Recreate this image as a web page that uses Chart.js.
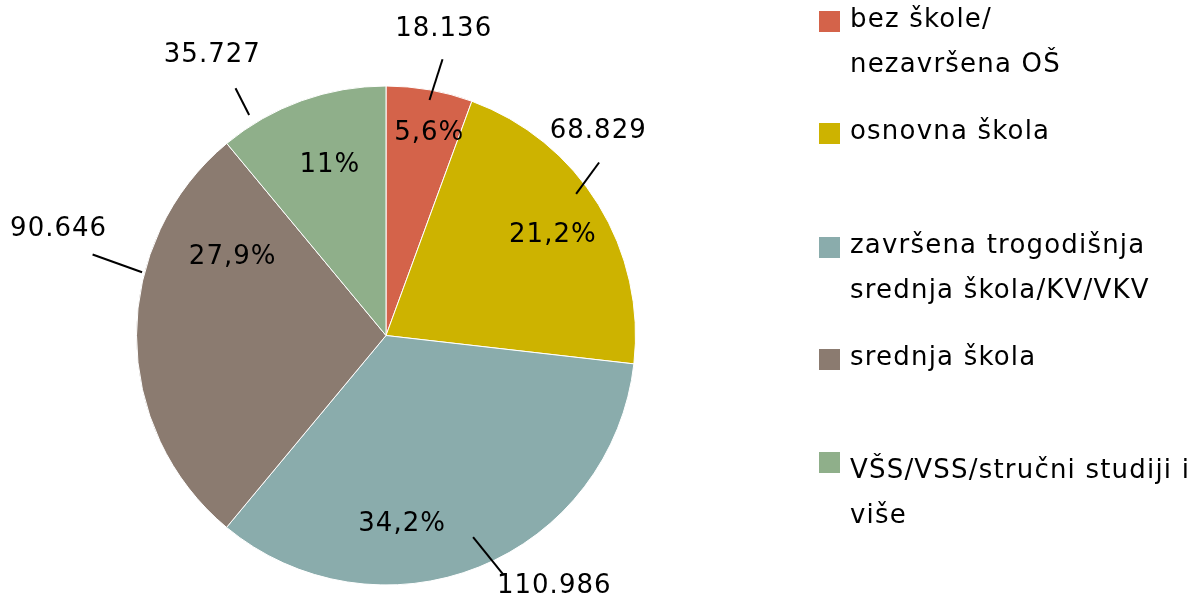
<!DOCTYPE html>
<html>
<head>
<meta charset="utf-8">
<script src="https://cdn.jsdelivr.net/npm/chart.js@4"></script>
<style>
  body { margin: 0; background: #fff; }
  #wrap { width: 1196px; height: 598px; }
</style>
</head>
<body>
<div id="wrap"><canvas id="pie" width="1196" height="598"></canvas></div>
<script>
// --- data ---
const categories = [
    'bez škole/\nnezavršena OŠ',
    'osnovna škola',
    'završena trogodišnja\nsrednja škola/KV/VKV',
    'srednja škola',
    'VŠS/VSS/stručni studiji i\nviše'
];
const counts = [18136, 68829, 110986, 90646, 35727];
const colors = ['#D4634A', '#CDB300', '#8AACAC', '#8B7B70', '#8FAF8A'];

// --- layout (label placement relative to each slice: [angle offset deg, radius fraction]) ---
const pctPos   = [[2, 0.83], [0.7, 0.78], [17, 0.76], [27, 0.69], [1.6, 0.72]];
const lineFrom = [[0.4, 0.96], [-5, 0.95], [-1.5, 0.88], [14.5, 1.01], [-12, 1.04]];
const lineTo   = [[1.5, 1.13], [-7.4, 1.10], [-4.3, 1.07], [15.4, 1.22], [-11.5, 1.16]];
const valPos   = [[0.6, 1.25], [-12.2, 1.18], [-12, 1.21], [18, 1.38], [-12, 1.32]];
const legendSquareTops = [11, 123, 237, 349, 452];
const legendBaselines = [27, 139, 253, 365, 478];
const legendLineHeight = 44.5;
const FONT = '26px "DejaVu Sans", Verdana, sans-serif';

const total = counts.reduce((a, b) => a + b, 0);

function fmtPct(v) {
    return (v / total * 100).toFixed(1).replace('.', ',').replace(',0', '') + '%';
}
function fmtNum(v) {
    return String(v).replace(/\B(?=(\d{3})+(?!\d))/g, '.');
}

function polar(arc, off) {
    const a = (arc.startAngle + arc.endAngle) / 2 + off[0] * Math.PI / 180;
    const r = arc.outerRadius * off[1];
    return { x: arc.x + r * Math.cos(a), y: arc.y + r * Math.sin(a) };
}

// draws the percent / value labels with leader lines
const sliceLabels = {
    id: 'sliceLabels',
    afterDatasetsDraw(chart) {
        const ctx = chart.ctx;
        const arcs = chart.getDatasetMeta(0).data;
        ctx.save();
        ctx.font = FONT;
        ctx.letterSpacing = '1px';
        ctx.fillStyle = '#000';
        ctx.textAlign = 'center';
        ctx.textBaseline = 'middle';
        arcs.forEach((arc, i) => {
            const p = polar(arc, pctPos[i]);
            ctx.fillText(fmtPct(counts[i]), p.x, p.y);
            const a = polar(arc, lineFrom[i]);
            const b = polar(arc, lineTo[i]);
            ctx.beginPath();
            ctx.moveTo(a.x, a.y);
            ctx.lineTo(b.x, b.y);
            ctx.lineWidth = 2;
            ctx.strokeStyle = '#000';
            ctx.stroke();
            const v = polar(arc, valPos[i]);
            ctx.fillText(fmtNum(counts[i]), v.x, v.y);
        });
        ctx.restore();
    }
};

// legend on the right with wrapped labels
const sideLegend = {
    id: 'sideLegend',
    afterDraw(chart) {
        const ctx = chart.ctx;
        ctx.save();
        ctx.font = FONT;
        ctx.letterSpacing = '1.2px';
        ctx.textAlign = 'left';
        ctx.textBaseline = 'alphabetic';
        categories.forEach((label, i) => {
            ctx.fillStyle = colors[i];
            ctx.fillRect(819, legendSquareTops[i], 21, 21);
            ctx.fillStyle = '#000';
            label.split('\n').forEach((line, j) => {
                ctx.fillText(line, 850, legendBaselines[i] + j * legendLineHeight);
            });
        });
        ctx.restore();
    }
};

new Chart(document.getElementById('pie').getContext('2d'), {
    type: 'pie',
    data: {
        labels: categories,
        datasets: [{
            data: counts,
            backgroundColor: colors,
            borderColor: '#ffffff',
            borderWidth: 1
        }]
    },
    options: {
        responsive: false,
        animation: false,
        layout: { padding: { left: 136, right: 560, top: 85, bottom: 12 } },
        plugins: {
            legend: { display: false },
            tooltip: { enabled: false }
        }
    },
    plugins: [sliceLabels, sideLegend]
});
</script>
</body>
</html>
